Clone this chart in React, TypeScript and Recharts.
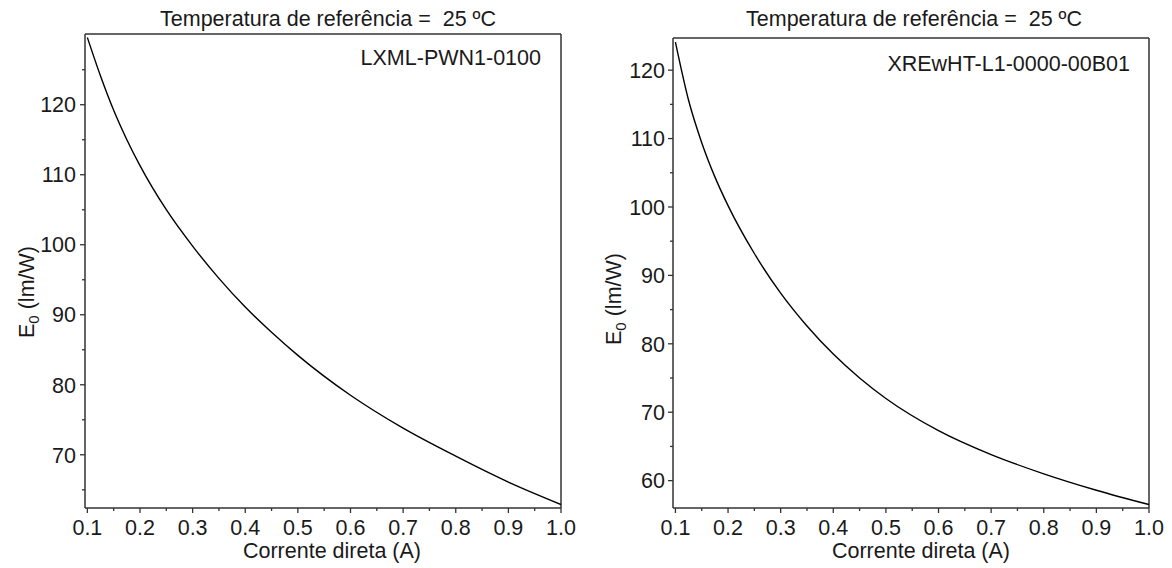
import React from "react";
import { LineChart, Line, XAxis, YAxis, ReferenceLine } from "recharts";

// forward current (A) and luminous efficacy E0 (lm/W)
const currentA = [0.1, 0.125, 0.15, 0.175, 0.2, 0.25, 0.3, 0.35, 0.4, 0.45, 0.5, 0.6, 0.7, 0.8, 0.9, 1.0];
const efficacyLxml = [129.6, 124.1, 119.2, 115.0, 111.3, 105.0, 99.8, 95.2, 91.1, 87.5, 84.2, 78.5, 73.8, 69.8, 66.1, 62.9];
const efficacyXre = [124.1, 115.6, 109.4, 104.4, 100.2, 93.2, 87.4, 82.6, 78.5, 75.0, 72.0, 67.3, 63.8, 61.0, 58.6, 56.5];

const xTicks = [0.1, 0.2, 0.3, 0.4, 0.5, 0.6, 0.7, 0.8, 0.9, 1.0];
const xMinorTicks = [0.15, 0.25, 0.35, 0.45, 0.55, 0.65, 0.75, 0.85, 0.95];
const yTicksLxml = [70, 80, 90, 100, 110, 120];
const yMinorLxml = [65, 75, 85, 95, 105, 115, 125];
const yTicksXre = [60, 70, 80, 90, 100, 110, 120];
const yMinorXre = [65, 75, 85, 95, 105, 115];

const title = "Temperatura de referência =  25 ºC";
const xTitle = "Corrente direta (A)";

const FONT = "'Liberation Sans', Arial, Helvetica, sans-serif";
const AXIS = "#333";
const TXT = "#1a1a1a";
const FS = 21.5;

const isMajor = (list: number[], v: number) => list.some((t) => Math.abs(t - v) < 1e-6);

// bottom tick: draws its own tick line (long for major, short for minor) and the label
const XTick = ({ x, y, payload }: any) => {
  const major = isMajor(xTicks, payload.value);
  return (
    <g>
      <line x1={x} x2={x} y1={y} y2={y + (major ? 5 : 3)} stroke={AXIS} strokeWidth={1.3} />
      {major && (
        <text x={x} y={y + 27} textAnchor="middle" fill={TXT} fontSize={FS} fontFamily={FONT}>
          {payload.value.toFixed(1)}
        </text>
      )}
    </g>
  );
};

const makeYTick = (majors: number[], gap: number) => ({ x, y, payload }: any) => {
  const major = isMajor(majors, payload.value);
  return (
    <g>
      <line x1={x - (major ? 5 : 3)} x2={x} y1={y} y2={y} stroke={AXIS} strokeWidth={1.3} />
      {major && (
        <text x={x - gap} y={y} dy="0.36em" textAnchor="end" fill={TXT} fontSize={FS} fontFamily={FONT}>
          {payload.value}
        </text>
      )}
    </g>
  );
};

type PanelProps = {
  values: number[];
  name: string;
  yDomain: [number, number];
  yTicks: number[];
  yMinor: number[];
  xMin: number;
  margin: { top: number; right: number };
  yWidth: number;
  yTickGap: number;
  yLabelX: number;
  yLabelDy: number;
  titleDx: number;
  titleBaseline: number;
  nameRight: number;
  nameBaseline: number;
  xLabelDx: number;
};

function Panel(p: PanelProps) {
  const rows = currentA.map((c, i) => ({ current: c, e0: p.values[i] }));
  const allX = [...xTicks, ...xMinorTicks].sort((a, b) => a - b);
  const allY = [...p.yTicks, ...p.yMinor].sort((a, b) => a - b);
  const YTick = makeYTick(p.yTicks, p.yTickGap);
  return (
    <LineChart
      width={586}
      height={568}
      data={rows}
      margin={{ top: p.margin.top, right: p.margin.right, bottom: 0, left: 0 }}
      style={{ fontFamily: FONT }}
    >
      <XAxis
        xAxisId="main"
        type="number"
        dataKey="current"
        domain={[p.xMin, 1.0]}
        allowDataOverflow
        ticks={allX}
        interval={0}
        tickSize={0}
        tickMargin={0}
        tick={XTick}
        tickLine={false}
        axisLine={{ stroke: AXIS, strokeWidth: 1.5 }}
        height={60}
        label={{
          content: ({ viewBox }: any) => (
            <text
              x={viewBox.x + viewBox.width / 2 + p.xLabelDx}
              y={viewBox.y + 50}
              textAnchor="middle"
              fill={TXT}
              fontSize={FS}
              fontFamily={FONT}
            >
              {xTitle}
            </text>
          ),
        }}
      />
      <YAxis
        yAxisId="main"
        type="number"
        domain={p.yDomain}
        allowDataOverflow
        ticks={allY}
        interval={0}
        tickSize={0}
        tickMargin={0}
        tick={YTick}
        tickLine={false}
        axisLine={{ stroke: AXIS, strokeWidth: 1.5 }}
        width={p.yWidth}
        label={{
          content: ({ viewBox }: any) => {
            const x = viewBox.x + p.yLabelX;
            const y = viewBox.y + viewBox.height / 2 + p.yLabelDy;
            return (
              <text
                x={x}
                y={y}
                transform={`rotate(-90 ${x} ${y})`}
                textAnchor="middle"
                fill={TXT}
                fontSize={FS}
                fontFamily={FONT}
              >
                E
                <tspan fontSize={15} dy={5}>0</tspan>
                <tspan dy={-5}> (lm/W)</tspan>
              </text>
            );
          },
        }}
      />
      {/* frame: top and right edges, carrying the title and the LED part number */}
      <ReferenceLine
        xAxisId="main"
        yAxisId="main"
        y={p.yDomain[1]}
        stroke={AXIS}
        strokeWidth={1.5}
        ifOverflow="visible"
        label={{
          content: ({ viewBox }: any) => (
            <text
              x={viewBox.x + viewBox.width / 2 + p.titleDx}
              y={p.titleBaseline}
              textAnchor="middle"
              fill={TXT}
              fontSize={FS}
              fontFamily={FONT}
              style={{ whiteSpace: "pre" }}
            >
              {title}
            </text>
          ),
        }}
      />
      <ReferenceLine
        xAxisId="main"
        yAxisId="main"
        x={1.0}
        stroke={AXIS}
        strokeWidth={1.5}
        ifOverflow="visible"
        label={{
          content: ({ viewBox }: any) => (
            <text
              x={viewBox.x - p.nameRight}
              y={p.nameBaseline}
              textAnchor="end"
              fill={TXT}
              fontSize={FS}
              fontFamily={FONT}
            >
              {p.name}
            </text>
          ),
        }}
      />
      <Line
        xAxisId="main"
        yAxisId="main"
        type="monotone"
        dataKey="e0"
        stroke="#000"
        strokeWidth={1.4}
        dot={false}
        activeDot={false}
        isAnimationActive={false}
      />
    </LineChart>
  );
}

export default function App() {
  return (
    <div
      style={{
        position: "absolute",
        left: 0,
        top: 0,
        width: 1172,
        height: 568,
        display: "flex",
        background: "#fff",
        fontFamily: FONT,
      }}
    >
      <Panel
        values={efficacyLxml}
        name="LXML-PWN1-0100"
        yDomain={[62.4, 130.1]}
        yTicks={yTicksLxml}
        yMinor={yMinorLxml}
        xMin={0.0955}
        margin={{ top: 34, right: 25 }}
        yWidth={85}
        yTickGap={9}
        yLabelX={34}
        yLabelDy={21}
        titleDx={5}
        titleBaseline={26}
        nameRight={20}
        nameBaseline={65}
        xLabelDx={9}
      />
      <Panel
        values={efficacyXre}
        name="XREwHT-L1-0000-00B01"
        yDomain={[56.0, 124.7]}
        yTicks={yTicksXre}
        yMinor={yMinorXre}
        xMin={0.0954}
        margin={{ top: 38, right: 23 }}
        yWidth={87}
        yTickGap={8}
        yLabelX={35}
        yLabelDy={26}
        titleDx={3}
        titleBaseline={26}
        nameRight={19}
        nameBaseline={71}
        xLabelDx={10}
      />
    </div>
  );
}
